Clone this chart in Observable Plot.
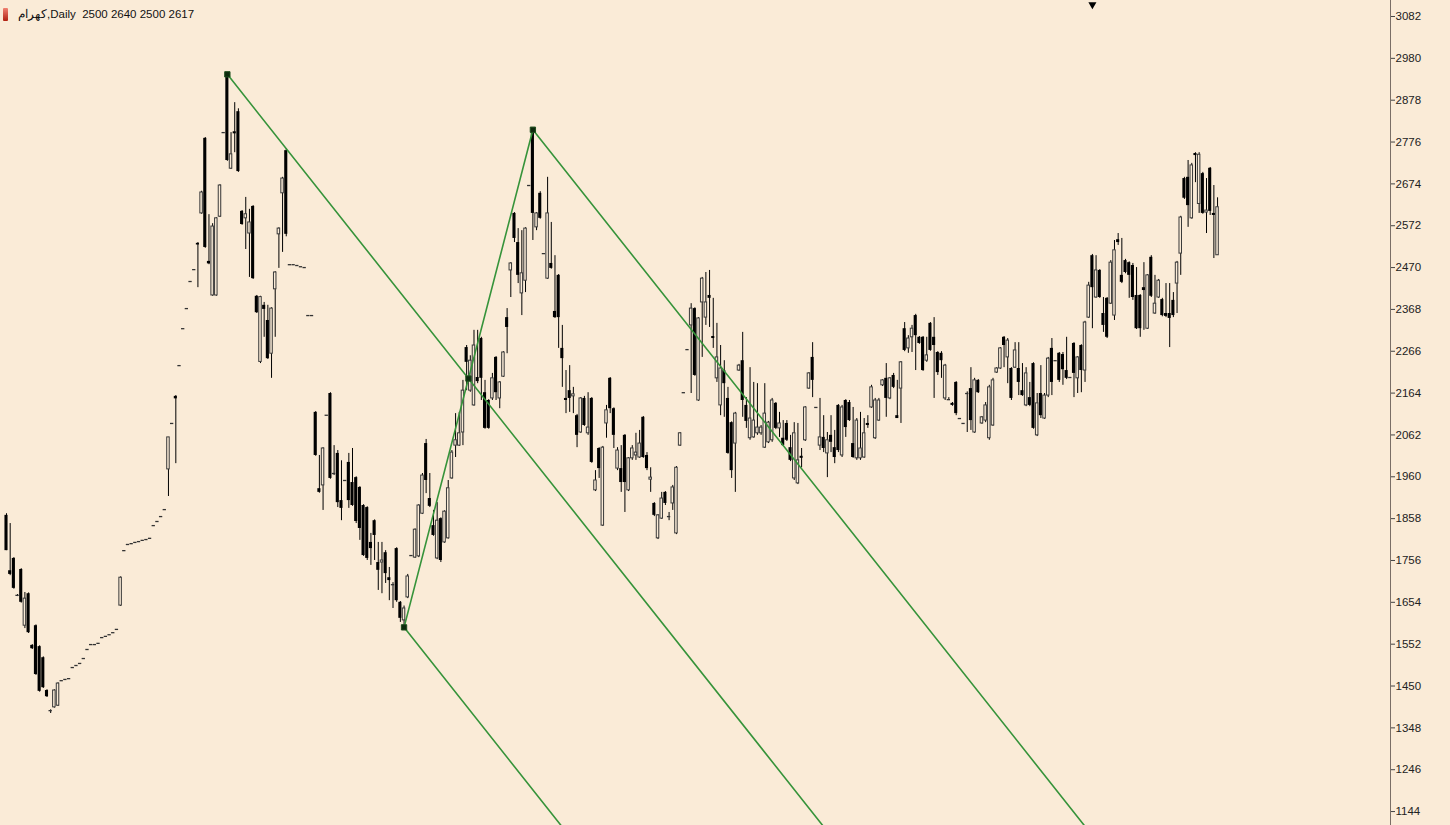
<!DOCTYPE html>
<html><head><meta charset="utf-8">
<script src="https://cdn.jsdelivr.net/npm/d3@7"></script>
<script src="https://cdn.jsdelivr.net/npm/@observablehq/plot@0.6"></script>
<style>
html,body{margin:0;padding:0;background:#FAEBD7;overflow:hidden}
#wrap{position:relative;width:1450px;height:825px;background:#FAEBD7}
#hdr{position:absolute;left:3px;top:7px;font:11.5px "Liberation Sans",Arial,sans-serif;color:#111;white-space:pre;display:flex;align-items:center}
#hdr .ico{display:inline-block;width:5px;height:13px;background:linear-gradient(#f08070,#b02010);margin-right:10px;border-radius:1px}
</style></head>
<body><div id="wrap"><div id="hdr"><span class="ico"></span><span id="ttl" dir="ltr"></span></div></div>
<script>
// ---- chart data (daily candles) ----
const symbolName = "کهرام";
const timeframe = "Daily";

const opens = [
1866,1731,1761,1671,1734,1597,1675,1549,1597,1546,
1519,1439,1390,1398,1402,1463,1466,1468,1495,1500,
1505,1517,1539,1551,1551,1554,1568,1571,1575,1580,
1588,1646,1780,1795,1797,1800,1802,1805,1807,1810,
1841,1851,1863,1880,1978,2090,2156,2231,2321,2370,
2436,2465,2529,2602,2785,2485,2402,2402,2594,2799,
2938,2711,2801,2850,2607,2590,2553,2619,2400,2240,
2378,2341,2260,2417,2551,2651,2755,2477,2477,2475,
2472,2470,2353,2353,2117,1931,1939,2110,2163,1966,
2017,1902,1951,1995,1946,1958,1934,1890,1885,1800,
1853,1751,1751,1775,1714,1700,1785,1654,1610,1666,
1768,1763,1766,1870,2041,1907,1841,1761,1858,1800,
1810,1956,2036,2036,2068,2275,2170,2134,2202,2297,
2165,2146,2151,2251,2151,2204,2348,2463,2602,2531,
2407,2438,2670,2804,2568,2651,2504,2443,2480,2363,
2451,2273,2151,2170,2156,2109,2068,2151,2066,2151,
1927,2029,1841,2090,2200,2126,1980,1980,2061,1927,
2005,2012,2007,2105,2012,1953,1895,1810,1858,1922,
1863,1895,1822,2036,2165,2270,2329,2370,2146,2385,
2348,2402,2302,2200,2134,2219,2151,2092,2041,2219,
2243,2134,2054,2056,2066,2066,2031,2044,2049,2139,
2078,2054,2090,2031,1956,1944,2010,2049,2175,2251,
2129,2036,2056,2017,2061,2031,2134,2012,2146,2141,
2041,2005,2005,2007,2090,2129,2054,2097,2183,2200,
2151,2207,2109,2175,2321,2273,2300,2353,2300,2300,
2243,2334,2300,2263,2261,2151,2151,2139,2190,2102,
2090,2165,2175,2068,2195,2090,2097,2054,2085,2214,
2224,2300,2251,2224,2226,2224,2170,2134,2153,2236,
2061,2163,2102,2158,2273,2243,2261,2258,2219,2202,
2285,2200,2280,2219,2348,2499,2397,2463,2358,2395,
2382,2353,2538,2451,2487,2482,2475,2402,2402,2421,
2321,2495,2358,2397,2392,2358,2358,2390,2431,2504,
2687,2690,2590,2748,2625,2699,2604,2712,2602,2500
];
const highs = [
1870,1846,1763,1673,1736,1678,1677,1551,1599,1548,
1521,1441,1392,1441,1458,1463,1466,1468,1495,1500,
1505,1517,1539,1551,1551,1554,1568,1571,1575,1580,
1588,1716,1780,1795,1797,1800,1802,1805,1807,1810,
1841,1851,1863,1880,2056,2090,2158,2231,2321,2370,
2436,2465,2531,2656,2787,2599,2577,2592,2672,2799,
2941,2799,2872,2857,2609,2641,2612,2621,2402,2400,
2385,2378,2372,2460,2567,2690,2760,2477,2477,2475,
2472,2470,2353,2353,2119,2012,2031,2110,2165,2036,
2024,1999,1951,2017,2029,1960,1936,1892,1887,1822,
1855,1800,1800,1780,1739,1702,1787,1656,1645,1722,
1768,1833,1892,1968,2051,1968,1878,1897,1860,1877,
1951,2024,2114,2117,2195,2280,2255,2317,2317,2300,
2195,2148,2212,2253,2192,2265,2370,2482,2604,2565,
2560,2567,2670,2806,2604,2655,2504,2690,2580,2499,
2453,2329,2219,2231,2178,2112,2153,2156,2165,2153,
1975,2031,2034,2134,2202,2128,2031,2036,2063,2007,
2036,2066,2073,2107,2019,1982,1897,1868,1922,1924,
1873,1939,1985,2068,2165,2270,2382,2372,2348,2446,
2458,2463,2395,2334,2280,2243,2178,2094,2117,2234,
2312,2153,2226,2190,2187,2085,2187,2095,2151,2141,
2117,2097,2097,2061,2092,2090,2029,2131,2214,2287,
2129,2151,2109,2068,2109,2073,2136,2134,2148,2146,
2129,2102,2117,2102,2109,2183,2151,2151,2197,2236,
2202,2212,2195,2241,2336,2304,2329,2356,2302,2302,
2300,2336,2348,2265,2265,2234,2153,2141,2192,2102,
2090,2167,2226,2200,2197,2107,2141,2183,2200,2226,
2275,2302,2297,2226,2287,2287,2236,2226,2190,2238,
2163,2231,2163,2251,2297,2243,2263,2263,2300,2202,
2287,2253,2282,2339,2434,2502,2499,2465,2397,2397,
2487,2536,2553,2541,2490,2484,2480,2470,2404,2482,
2453,2499,2451,2441,2395,2431,2431,2409,2485,2595,
2690,2731,2724,2750,2750,2702,2687,2714,2670,2640
];
const lows = [
1780,1719,1686,1668,1652,1590,1578,1539,1476,1435,
1444,1422,1383,1396,1400,1463,1466,1468,1495,1500,
1505,1517,1539,1551,1551,1554,1568,1571,1575,1580,
1588,1644,1780,1795,1797,1800,1802,1805,1807,1810,
1841,1851,1863,1880,1912,2090,1992,2231,2321,2370,
2436,2465,2421,2600,2517,2477,2400,2400,2592,2799,
2729,2709,2750,2702,2573,2514,2446,2441,2358,2236,
2300,2246,2200,2300,2468,2507,2545,2477,2477,2475,
2472,2470,2353,2353,2010,1920,1878,2110,1954,1963,
1885,1853,1951,1883,1888,1846,1805,1766,1756,1744,
1756,1683,1675,1700,1658,1639,1654,1605,1593,1663,
1768,1761,1763,1868,1919,1885,1815,1758,1751,1798,
1808,1954,2007,2034,2036,2170,2166,2132,2187,2146,
2076,2076,2146,2146,2126,2202,2260,2397,2531,2431,
2353,2409,2670,2536,2560,2588,2504,2441,2466,2346,
2273,2178,2114,2117,2114,2031,2066,2083,2061,1993,
1924,1956,1839,2054,2114,2029,1975,1922,1873,1924,
2000,2000,2005,2005,1975,1922,1863,1807,1856,1890,
1853,1878,1819,2034,2165,2270,2163,2205,2144,2251,
2329,2324,2273,2190,2109,2105,2015,1956,1922,2217,
2105,2078,2049,2054,2061,2061,2029,2041,2044,2075,
2056,2034,2046,1997,1951,1941,1982,2046,2173,2153,
2129,2024,2019,1958,2019,1992,2019,2007,2056,2095,
2005,2000,2000,2005,2078,2127,2051,2095,2180,2105,
2148,2175,2102,2090,2265,2261,2263,2219,2283,2217,
2239,2266,2151,2207,2200,2146,2146,2132,2109,2102,
2090,2068,2073,2066,2163,2088,2092,2049,2083,2212,
2222,2226,2187,2146,2224,2158,2156,2131,2131,2076,
2058,2102,2100,2153,2158,2243,2190,2183,2197,2202,
2153,2163,2165,2190,2346,2321,2395,2395,2312,2297,
2380,2341,2524,2431,2455,2395,2390,2319,2300,2317,
2319,2397,2356,2395,2350,2348,2275,2348,2358,2451,
2636,2568,2588,2677,2602,2600,2553,2597,2492,2500
];
const closes = [
1780,1722,1688,1671,1654,1663,1580,1541,1478,1437,
1446,1424,1390,1439,1456,1463,1466,1468,1495,1500,
1505,1517,1539,1551,1551,1554,1568,1571,1575,1580,
1588,1714,1780,1795,1797,1800,1802,1805,1807,1810,
1841,1851,1863,1880,2056,2090,2150,2231,2321,2370,
2436,2465,2525,2653,2519,2479,2570,2590,2670,2799,
2731,2746,2796,2704,2575,2600,2580,2443,2360,2398,
2368,2248,2370,2458,2565,2687,2551,2477,2477,2475,
2472,2470,2353,2353,2012,1922,2029,2110,1956,1968,
1897,1883,1951,1902,1890,1851,1834,1768,1761,1785,
1817,1732,1756,1724,1707,1697,1658,1615,1639,1717,
1768,1831,1890,1963,1951,1888,1817,1853,1756,1875,
1932,2019,2049,2066,2170,2239,2243,2280,2192,2200,
2078,2078,2200,2165,2190,2263,2324,2480,2541,2451,
2456,2565,2670,2602,2602,2590,2504,2602,2468,2348,
2348,2248,2146,2151,2161,2061,2151,2085,2080,1995,
1951,1980,2031,2122,2126,2061,2024,1946,1946,2005,
2029,2019,2041,2007,1980,1958,1866,1866,1907,1895,
1863,1934,1982,2066,2165,2270,2370,2207,2346,2443,
2385,2395,2297,2251,2224,2187,2017,1975,2114,2231,
2146,2095,2102,2097,2080,2080,2114,2092,2146,2078,
2090,2036,2049,2000,2066,2000,2005,2129,2212,2195,
2129,2056,2029,2049,2044,2007,2024,2129,2080,2097,
2007,2097,2029,2066,2085,2178,2146,2146,2195,2151,
2200,2178,2102,2239,2268,2297,2321,2304,2285,2219,
2256,2268,2280,2214,2243,2231,2148,2134,2114,2102,
2090,2163,2097,2195,2165,2105,2134,2178,2195,2224,
2273,2280,2292,2151,2268,2190,2158,2212,2134,2078,
2139,2109,2158,2248,2190,2243,2195,2221,2200,2202,
2212,2251,2219,2336,2426,2421,2463,2397,2329,2300,
2482,2512,2531,2434,2458,2451,2397,2321,2321,2414,
2451,2400,2382,2438,2353,2351,2346,2353,2482,2592,
2639,2621,2719,2743,2745,2602,2609,2607,2597,2617
];

// price-axis tick labels
const yTicks = [3082,2980,2878,2776,2674,2572,2470,2368,2266,2164,2062,1960,1858,1756,1654,1552,1450,1348,1246,1144];

// Andrews pitchfork pivots (bar index, price)
const pivotBars = [60, 108, 143];
const pivotPrices = [2941, 1593, 2806];

// chart-shift marker bar
const shiftBar = [295];

// ---- build ----
const last = opens.length - 1;
document.getElementById("ttl").textContent =
  `${symbolName},${timeframe}  ${opens[last]} ${highs[last]} ${lows[last]} ${closes[last]}`;

const BG = "#FAEBD7";
const bars = opens.map((o, i) => ({i, o, h: Math.max(highs[i], o, closes[i]), l: Math.min(lows[i], o, closes[i]), c: closes[i]}));
const doji = bars.filter(d => Math.abs(d.c - d.o) < 4);
const bodies = bars.filter(d => Math.abs(d.c - d.o) >= 4);
const bull = bodies.filter(d => d.c > d.o);
const bear = bodies.filter(d => d.c < d.o);

const barStep = 3.681, firstX = 6, plotW = 1390;
const xDomain = [-firstX / barStep, (plotW - firstX) / barStep];
const yDomain = [1110, 3121];

// pitchfork geometry
const [b0, b1, b2] = pivotBars, [p0, p1, p2] = pivotPrices;
const mid = {x: (b1 + b2) / 2, y: (p1 + p2) / 2};
const slope = (mid.y - p0) / (mid.x - b0);
const yFar = 900;
const ray = (x, y, name) => [{x, y, name}, {x: x + (yFar - y) / slope, y: yFar, name}];
const forkLines = [
  ...ray(b0, p0, "median"),
  ...ray(b1, p1, "lower"),
  ...ray(b2, p2, "upper"),
  {x: b1, y: p1, name: "base"}, {x: b2, y: p2, name: "base"}
];
const forkPts = [{x: b0, y: p0}, {x: b1, y: p1}, {x: b2, y: p2}, mid];

const chart = Plot.plot({
  width: 1450, height: 825,
  marginTop: 0, marginBottom: 0, marginLeft: 0, marginRight: 60,
  style: {background: "transparent", fontFamily: "'Liberation Sans', Arial, sans-serif", overflow: "visible"},
  x: {type: "linear", domain: xDomain, axis: null},
  y: {domain: yDomain, axis: null},
  marks: [
    Plot.ruleX(bars, {x: "i", y1: "l", y2: "h", stroke: "#000", strokeWidth: 1}),
    Plot.rect(bear, {x1: d => d.i - 0.42, x2: d => d.i + 0.42, y1: "o", y2: "c", fill: "#000"}),
    Plot.rect(bull, {x1: d => d.i - 0.34, x2: d => d.i + 0.34, y1: "o", y2: "c", fill: BG, stroke: "#3a3a3a", strokeWidth: 1}),
    Plot.ruleY(doji, {y: "c", x1: d => d.i - 0.45, x2: d => d.i + 0.45, stroke: "#333", strokeWidth: 1.3}),
    Plot.line(forkLines, {x: "x", y: "y", z: "name", stroke: "#36933a", strokeWidth: 1.6, clip: true}),
    Plot.dot(forkPts, {x: "x", y: "y", symbol: "square", r: 3, fill: "#0d2a0d", stroke: "#1d4d1d", strokeWidth: 1}),
    Plot.ruleX([xDomain[1]], {stroke: "#7a6e66", strokeWidth: 1}),
    Plot.axisY(yTicks, {anchor: "right", tickSize: 4, tickPadding: 1, fontSize: 11.5, fill: "#222", stroke: "#444", tickFormat: d => String(d)}),
    Plot.dot(shiftBar, {x: d => d, y: () => yDomain[1], symbol: "triangle", r: 3, rotate: 180, dy: 4, fill: "#000"})
  ]
});
document.getElementById("wrap").insertBefore(chart, document.getElementById("hdr"));
</script>
</body></html>
